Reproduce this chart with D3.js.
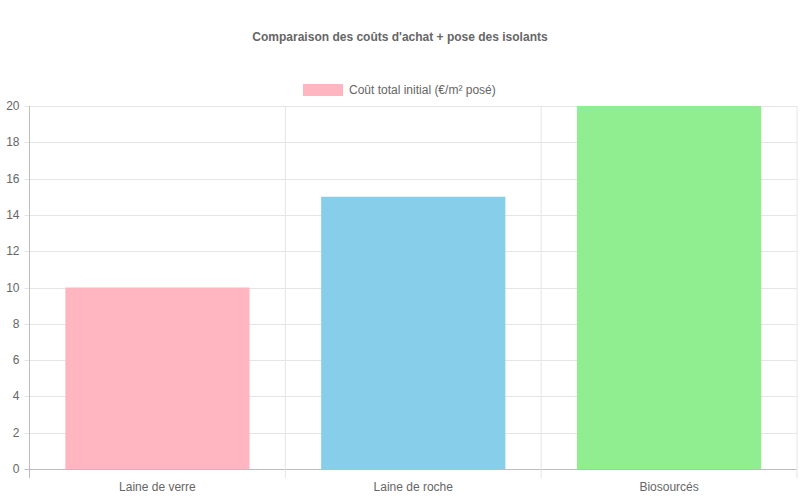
<!DOCTYPE html>
<html>
<head>
<meta charset="utf-8">
<script src="https://cdn.jsdelivr.net/npm/d3@7"></script>
<style>
  body { margin: 0; background: #fff; }
  text { font-family: "Liberation Sans", Arial, sans-serif; }
</style>
</head>
<body>
<svg id="chart"></svg>
<script>
var categories = ["Laine de verre", "Laine de roche", "Biosourcés"]
var costs = [10, 15, 20]
var barColors = ["#ffb6c1", "#87ceeb", "#90ee90"]
var yTicks = [0, 2, 4, 6, 8, 10, 12, 14, 16, 18, 20]
var seriesName = "Coût total initial (€/m² posé)"
var chartTitle = "Comparaison des coûts d'achat + pose des isolants"

var drawChart = function(target)
{
    var screen = {width:800, height:500}
    var margins = {top:106, bottom:31, left:29.5, right:3}
    var graph = {
        width: screen.width - margins.left - margins.right,
        height: screen.height - margins.top - margins.bottom
    }

    var svg = d3.select(target)
        .attr("width", screen.width)
        .attr("height", screen.height)

    var xScale = d3.scaleBand()
        .domain(categories)
        .range([0, graph.width])
        .paddingInner(0)
        .paddingOuter(0)

    var yScale = d3.scaleLinear()
        .domain([0, 20])
        .range([graph.height, 0])

    var g = svg.append("g")
        .attr("transform", "translate(" + margins.left + "," + margins.top + ")")

    // grid
    g.selectAll(".hgrid")
        .data(yTicks)
        .enter()
        .append("line")
        .attr("x1", -5)
        .attr("x2", graph.width)
        .attr("y1", function(d) { return Math.round(yScale(d)) + 0.5 })
        .attr("y2", function(d) { return Math.round(yScale(d)) + 0.5 })
        .attr("stroke", function(d) { return d == 0 ? "#bdbdbd" : "#e5e5e5" })
        .attr("stroke-width", 1)

    var vx = categories.map(function(c) { return xScale(c) }).concat([graph.width])
    g.selectAll(".vgrid")
        .data(vx)
        .enter()
        .append("line")
        .attr("x1", function(d) { return d })
        .attr("x2", function(d) { return d })
        .attr("y1", 0)
        .attr("y2", graph.height + 9)
        .attr("stroke", function(d, i) { return i == 0 ? "#bdbdbd" : "#e5e5e5" })
        .attr("stroke-width", 1)

    // bars
    var barW = xScale.bandwidth() * 0.72
    g.selectAll(".bar")
        .data(costs)
        .enter()
        .append("rect")
        .attr("x", function(d, i) { return xScale(categories[i]) + (xScale.bandwidth() - barW) / 2 })
        .attr("y", function(d) { return yScale(d) })
        .attr("width", barW)
        .attr("height", function(d) { return graph.height - yScale(d) })
        .attr("fill", function(d, i) { return barColors[i] })

    // y labels
    g.selectAll(".ylab")
        .data(yTicks)
        .enter()
        .append("text")
        .attr("x", -10)
        .attr("y", function(d) { return yScale(d) + 4 })
        .attr("text-anchor", "end")
        .attr("font-size", 12)
        .attr("fill", "#666")
        .text(function(d) { return d })

    // x labels
    g.selectAll(".xlab")
        .data(categories)
        .enter()
        .append("text")
        .attr("x", function(d) { return xScale(d) + xScale.bandwidth() / 2 })
        .attr("y", graph.height + 22)
        .attr("text-anchor", "middle")
        .attr("font-size", 12)
        .attr("fill", "#666")
        .text(function(d) { return d })

    // title
    svg.append("text")
        .attr("x", screen.width / 2)
        .attr("y", 41)
        .attr("text-anchor", "middle")
        .attr("font-size", 12)
        .attr("font-weight", "bold")
        .attr("fill", "#666")
        .text(chartTitle)

    // legend
    var legend = svg.append("g")
    legend.append("rect")
        .attr("x", 303)
        .attr("y", 84)
        .attr("width", 40)
        .attr("height", 12)
        .attr("fill", barColors[0])
    legend.append("text")
        .attr("x", 349)
        .attr("y", 94)
        .attr("font-size", 12)
        .attr("fill", "#666")
        .text(seriesName)
}

drawChart("#chart")
</script>
</body>
</html>
